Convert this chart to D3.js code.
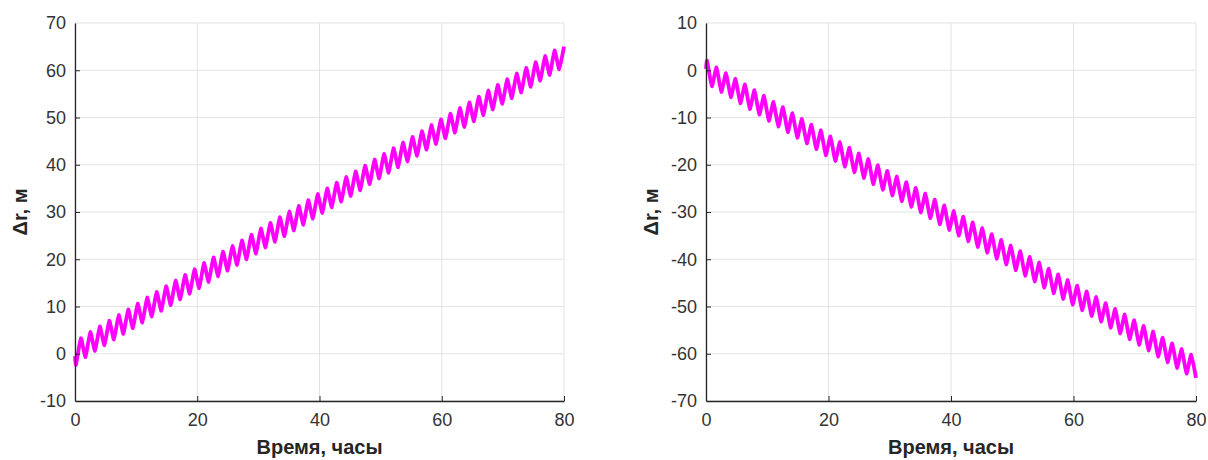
<!DOCTYPE html>
<html lang="ru">
<head>
<meta charset="UTF-8">
<title>Δr</title>
<script src="https://d3js.org/d3.v7.min.js"></script>
<style>
  body { margin: 0; background: #fff; font-family: "Liberation Sans", Arial, sans-serif; }
  .grid line { stroke: #e3e3e3; stroke-width: 1; }
  .tick text { fill: #333; font-size: 18px; }
  .axis-title { fill: #262626; font-size: 20px; font-weight: bold; }
</style>
</head>
<body>
<svg id="chart" width="1208" height="460"></svg>
<script>
// times of the extremes (hours); first point is the start of the trace
const hours = [0, 0.17, 0.95, 1.72, 2.50, 3.27, 4.05, 4.82, 5.60, 6.37, 7.15, 7.92, 8.70, 9.47, 10.25,
  11.02, 11.80, 12.57, 13.35, 14.12, 14.90, 15.67, 16.45, 17.22, 18.00, 18.77, 19.55, 20.32, 21.10,
  21.87, 22.65, 23.42, 24.20, 24.97, 25.75, 26.52, 27.30, 28.07, 28.85, 29.62, 30.40, 31.17, 31.95,
  32.72, 33.50, 34.27, 35.05, 35.82, 36.60, 37.37, 38.15, 38.92, 39.70, 40.47, 41.25, 42.02, 42.80,
  43.57, 44.35, 45.12, 45.90, 46.67, 47.45, 48.22, 49.00, 49.77, 50.55, 51.32, 52.10, 52.87, 53.65,
  54.42, 55.20, 55.97, 56.75, 57.52, 58.30, 59.07, 59.85, 60.62, 61.40, 62.17, 62.95, 63.72, 64.50,
  65.27, 66.05, 66.82, 67.60, 68.37, 69.15, 69.92, 70.70, 71.47, 72.25, 73.02, 73.80, 74.57, 75.35,
  76.12, 76.90, 77.67, 78.45, 79.22, 80.00];

// left panel, Δr in metres
const drLeft = [-0.5, -2.3, 3.3, -0.7, 4.6, 0.6, 5.8, 1.8, 7.0, 3.0, 8.2, 4.2, 9.4, 5.4, 10.6,
  6.6, 11.9, 7.9, 13.1, 9.1, 14.3, 10.3, 15.5, 11.5, 16.7, 12.7, 17.9, 13.9, 19.2, 15.2, 20.4,
  16.4, 21.6, 17.6, 22.8, 18.8, 24.0, 20.0, 25.2, 21.2, 26.5, 22.5, 27.7, 23.7, 28.9, 24.9, 30.1,
  26.1, 31.3, 27.3, 32.5, 28.6, 33.8, 29.8, 35.0, 31.0, 36.2, 32.2, 37.4, 33.4, 38.6, 34.6, 39.8,
  35.9, 41.1, 37.1, 42.3, 38.3, 43.5, 39.5, 44.7, 40.7, 45.9, 41.9, 47.1, 43.2, 48.4, 44.4, 49.6,
  45.6, 50.8, 46.8, 52.0, 48.0, 53.2, 49.2, 54.4, 50.5, 55.7, 51.7, 56.9, 52.9, 58.1, 54.1, 59.3,
  55.3, 60.5, 56.5, 61.7, 57.8, 63.0, 59.0, 64.2, 60.2, 65.0];

// right panel, Δr in metres
const drRight = [0.3, 2.0, -3.4, 0.6, -4.6, -0.6, -5.7, -1.8, -7.0, -3.0, -8.2, -4.2, -9.4, -5.4, -10.7,
  -6.7, -11.9, -7.8, -13.1, -9.1, -14.3, -10.3, -15.5, -11.5, -16.7, -12.7, -18.0, -14.0, -19.2, -15.2, -20.4,
  -16.4, -21.6, -17.6, -22.8, -18.8, -24.1, -20.1, -25.3, -21.3, -26.5, -22.5, -27.7, -23.7, -28.9, -24.9, -30.1,
  -26.1, -31.3, -27.4, -32.6, -28.6, -33.8, -29.8, -35.0, -31.0, -36.2, -32.2, -37.4, -33.4, -38.6, -34.7, -39.9,
  -35.9, -41.1, -37.1, -42.3, -38.3, -43.5, -39.5, -44.7, -40.7, -46.0, -42.0, -47.2, -43.2, -48.4, -44.4, -49.6,
  -45.6, -50.8, -46.8, -52.0, -48.0, -53.2, -49.3, -54.5, -50.5, -55.7, -51.7, -56.9, -52.9, -58.1, -54.1, -59.3,
  -55.3, -60.6, -56.6, -61.8, -57.8, -63.0, -59.0, -64.2, -60.2, -65.1];

const xTicks = [0, 20, 40, 60, 80];
const yTicksLeft = [-10, 0, 10, 20, 30, 40, 50, 60, 70];
const yTicksRight = [-70, -60, -50, -40, -30, -20, -10, 0, 10];
const xTitle = "Время, часы";
const yTitle = "\u0394r, м";

const svg = d3.select("#chart");

function drawPanel(opt) {
  const x = d3.scaleLinear().domain([0, 80]).range([opt.left, opt.right]);
  const y = d3.scaleLinear().domain(opt.yDomain).range([401, 23]);
  const g = svg.append("g");

  // grid
  g.append("g").attr("class", "grid")
    .selectAll("line.v").data(xTicks).enter().append("line")
    .attr("x1", d => x(d)).attr("x2", d => x(d)).attr("y1", y.range()[0]).attr("y2", y.range()[1]);
  g.append("g").attr("class", "grid")
    .selectAll("line.h").data(opt.yTicks).enter().append("line")
    .attr("y1", d => y(d)).attr("y2", d => y(d)).attr("x1", x.range()[0]).attr("x2", x.range()[1]);

  // data
  const pts = hours.map((h, i) => [h, opt.values[i]]);
  g.append("path").datum(pts)
    .attr("fill", "none")
    .attr("stroke", "#ff00ff")
    .attr("stroke-width", 3.8)
    .attr("stroke-linejoin", "round")
    .attr("d", d3.line().x(d => x(d[0])).y(d => y(d[1])).curve(d3.curveCardinal.tension(0.6)));

  // axes, ticks inside like matlab; plain hyphen for negatives
  const fmt = d => String(d);
  const xAxis = g.append("g").attr("transform", `translate(0,${y.range()[0]})`)
    .call(d3.axisBottom(x).tickValues(xTicks).tickFormat(fmt).tickSizeInner(-5).tickSizeOuter(0).tickPadding(12));
  const yAxis = g.append("g").attr("transform", `translate(${x.range()[0]},0)`)
    .call(d3.axisLeft(y).tickValues(opt.yTicks).tickFormat(fmt).tickSizeInner(-5).tickSizeOuter(0).tickPadding(9));
  [xAxis, yAxis].forEach(a => {
    a.select(".domain").attr("stroke", "#262626").attr("stroke-width", 1.3);
    a.selectAll(".tick line").attr("stroke", "#262626");
    a.selectAll(".tick text").attr("font-family", null).attr("font-size", null);
  });
  // no tick marks on the corners
  yAxis.selectAll(".tick line").filter(d => d === opt.yDomain[0] || d === opt.yDomain[1]).remove();
  xAxis.selectAll(".tick line").filter(d => d === 0).remove();

  g.append("text").attr("class", "axis-title")
    .attr("x", (x.range()[0] + x.range()[1]) / 2).attr("y", 454)
    .attr("text-anchor", "middle").text(xTitle);
  g.append("text").attr("class", "axis-title")
    .attr("transform", `translate(${opt.left - 48},212) rotate(-90)`)
    .attr("text-anchor", "middle").text(yTitle);
}

drawPanel({ left: 75, right: 564, yDomain: [-10, 70], yTicks: yTicksLeft, values: drLeft });
drawPanel({ left: 706, right: 1196, yDomain: [-70, 10], yTicks: yTicksRight, values: drRight });
</script>
</body>
</html>
